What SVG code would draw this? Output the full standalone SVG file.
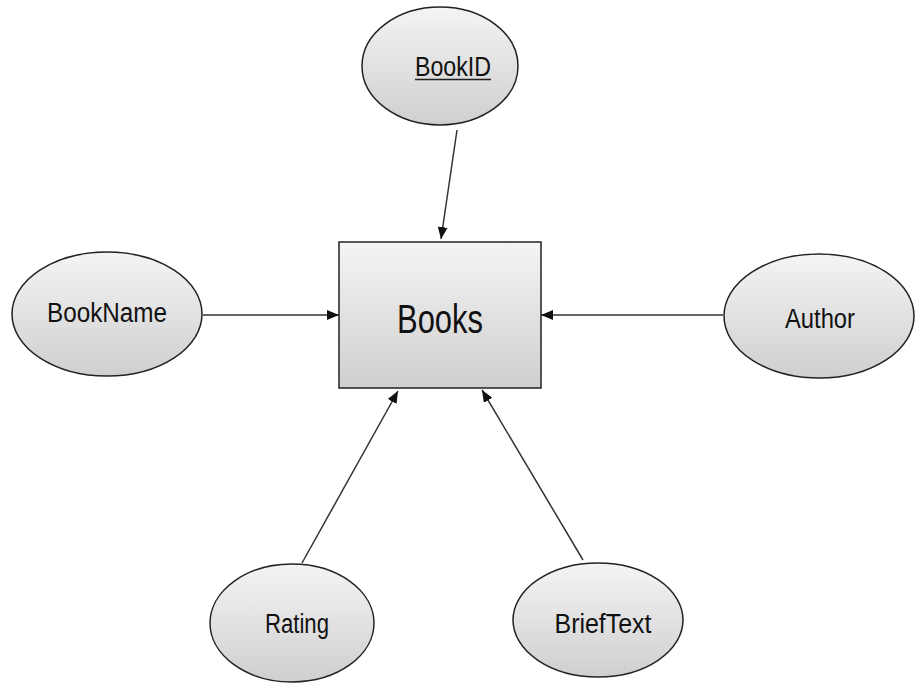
<svg xmlns="http://www.w3.org/2000/svg" width="917" height="684" viewBox="0 0 917 684">
<defs>
<linearGradient id="g" x1="0" y1="0" x2="0" y2="1">
<stop offset="0" stop-color="#f4f4f4"/>
<stop offset="1" stop-color="#cfcfcf"/>
</linearGradient>
<marker id="arr" viewBox="0 0 12 10" refX="12" refY="5" markerWidth="12" markerHeight="10" markerUnits="userSpaceOnUse" orient="auto">
<path d="M0,0 L12,5 L0,10 Z" fill="#111"/>
</marker>
<style>
.shape{fill:url(#g);stroke:#222;stroke-width:1.5}
.lbl{font-family:"Liberation Sans",Arial,sans-serif;fill:#111;text-anchor:middle}
.conn line{stroke:#333;stroke-width:1.5;marker-end:url(#arr)}
</style>
</defs>
<rect width="917" height="684" fill="#fff"/>
<g class="conn" id="connectors">
<line x1="457" y1="130" x2="441" y2="239"/>
<line x1="203" y1="315" x2="339" y2="315"/>
<line x1="723" y1="315" x2="541" y2="315"/>
<line x1="302" y1="563" x2="398" y2="391"/>
<line x1="583" y1="560" x2="482" y2="390"/>
</g>
<g id="books">
<rect class="shape" x="339" y="242" width="202" height="146"/>
<text class="lbl" x="440" y="333" font-size="40" textLength="86" lengthAdjust="spacingAndGlyphs">Books</text>
</g>
<g id="bookid">
<ellipse class="shape" cx="440" cy="66" rx="78" ry="59"/>
<text class="lbl" x="453" y="76" font-size="27" textLength="76" lengthAdjust="spacingAndGlyphs">BookID</text>
<line x1="415" y1="79.5" x2="491" y2="79.5" stroke="#222" stroke-width="1.5"/>
</g>
<g id="bookname">
<ellipse class="shape" cx="107" cy="314" rx="95" ry="62"/>
<text class="lbl" x="107" y="322" font-size="27" textLength="120" lengthAdjust="spacingAndGlyphs">BookName</text>
</g>
<g id="author">
<ellipse class="shape" cx="819" cy="316" rx="95" ry="62"/>
<text class="lbl" x="820" y="328" font-size="27" textLength="70" lengthAdjust="spacingAndGlyphs">Author</text>
</g>
<g id="rating">
<ellipse class="shape" cx="292" cy="623" rx="82" ry="59"/>
<text class="lbl" x="297" y="633" font-size="27" textLength="64" lengthAdjust="spacingAndGlyphs">Rating</text>
</g>
<g id="brieftext">
<ellipse class="shape" cx="598" cy="620" rx="85" ry="57"/>
<text class="lbl" x="603" y="633" font-size="27" textLength="97" lengthAdjust="spacingAndGlyphs">BriefText</text>
</g>
</svg>
